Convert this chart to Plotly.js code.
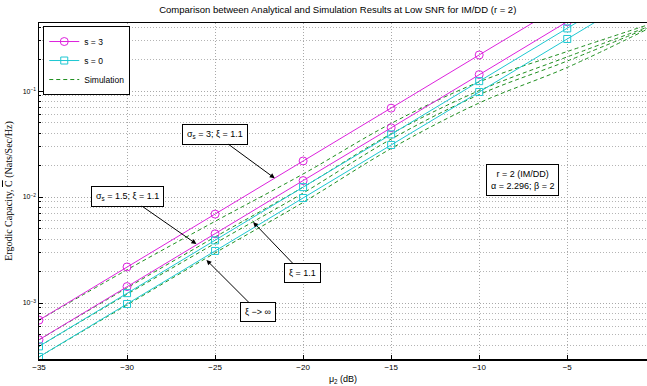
<!DOCTYPE html>
<html><head><meta charset="utf-8">
<script src="https://cdn.plot.ly/plotly-3.0.1.min.js"></script>
<style>html,body{margin:0;padding:0;background:#fff}#chart{width:647px;height:386px}</style>
</head><body><div id="chart"></div>
<script>
// Analytical curves (mu_2 in dB)
const snrDb = [-35, -30, -25, -20, -15, -10, -5, 0];
const capS3Sig3  = [6.9e-4, 2.19e-3, 6.9e-3, 0.0219, 0.069, 0.219, 0.69, 2.19];
const capS3Sig15 = [4.5e-4, 1.43e-3, 4.5e-3, 0.0143, 0.045, 0.143, 0.45, 1.43];
const capS0Xi11  = [3.9e-4, 1.24e-3, 3.9e-3, 0.0124, 0.039, 0.124, 0.39, 1.24];
const capS0XiInf = [3.1e-4, 9.8e-4, 3.1e-3, 9.8e-3, 0.031, 0.098, 0.31, 0.98];
// Simulation curves
const simDb = [-35, -30, -25, -20, -15, -10, -5, -0.5];
const simS3Sig3  = [6.9e-4, 2.06e-3, 5.9e-3, 0.0165, 0.0495, 0.122, 0.236, 0.417];
const simS3Sig15 = [4.5e-4, 1.39e-3, 4.2e-3, 0.0124, 0.0395, 0.101, 0.210, 0.398];
const simS0Xi11  = [3.9e-4, 1.21e-3, 3.66e-3, 0.0109, 0.0352, 0.0925, 0.192, 0.389];
const simS0XiInf = [3.1e-4, 9.6e-4, 2.97e-3, 8.9e-3, 0.0287, 0.0772, 0.167, 0.380];
const xTicks = [-35, -30, -25, -20, -15, -10, -5];
const yTicks = [1e-3, 1e-2, 1e-1];
const yTickText = ['10<sup>\u22123</sup>', '10<sup>\u22122</sup>', '10<sup>\u22121</sup>'];

const MAG = '#dd22dd', CYA = '#1ec8d2', GRN = '#1f8f1f';
const minorY = [];
[1e-4, 1e-3, 1e-2, 1e-1].forEach(d => { for (let k = 2; k <= 9; k++) minorY.push(+(d * k).toPrecision(3)); });

function sim(y, show) {
  return {x: simDb, y: y, mode: 'lines', name: 'Simulation', showlegend: show, legendrank: 3,
    line: {color: GRN, width: 1, dash: '4px,3px', shape: 'spline', smoothing: 1}};
}
function ana(y, name, color, sym, show) {
  return {x: snrDb, y: y, mode: 'lines+markers', name: name, showlegend: show,
    legendrank: color === MAG ? 1 : 2,
    line: {color: color, width: 1},
    marker: {symbol: sym, size: sym === 'circle-open' ? 8 : 7, color: color, line: {width: 1, color: color}}};
}
const data = [
  sim(simS3Sig3, true), sim(simS3Sig15, false), sim(simS0Xi11, false), sim(simS0XiInf, false),
  ana(capS3Sig3, 's = 3', MAG, 'circle-open', true),
  ana(capS3Sig15, 's = 3', MAG, 'circle-open', false),
  ana(capS0Xi11, 's = 0', CYA, 'square-open', true),
  ana(capS0XiInf, 's = 0', CYA, 'square-open', false)
];

const boxFont = {family: 'Liberation Sans, Arial, sans-serif', size: 9, color: '#000'};
function note(x, ly, text, ax, ay) {
  return {x: x, y: ly, xref: 'x', yref: 'y', text: text, showarrow: true, ax: ax, ay: ay,
    arrowhead: 2, arrowsize: 1, arrowwidth: 1, arrowcolor: '#000', font: boxFont,
    bgcolor: '#fff', bordercolor: '#000', borderwidth: 1, borderpad: 4};
}
const layout = {
  width: 647, height: 386,
  margin: {l: 39, r: 0, t: 23, b: 27},
  paper_bgcolor: '#fff', plot_bgcolor: '#fff',
  font: {family: 'Liberation Sans, Arial, sans-serif', size: 8, color: '#000'},
  title: {text: 'Comparison between Analytical and Simulation Results at Low SNR for IM/DD (r = 2)',
    font: {size: 9.5, color: '#000'}, x: 0.522, xanchor: 'center', y: 0.975, yanchor: 'middle'},
  showlegend: true,
  legend: {x: 0.007, y: 0.991, xanchor: 'left', yanchor: 'top', bgcolor: '#fff',
    bordercolor: '#000', borderwidth: 1, font: {size: 8.5}, tracegroupgap: 0, itemwidth: 30},
  xaxis: {range: [-35, -0.47], tickvals: xTicks, ticks: 'inside', ticklen: 4, tickcolor: '#000',
    showline: true, mirror: true, linecolor: '#000', linewidth: 1.5,
    showgrid: true, gridcolor: '#a8a8a8', griddash: '1px,2px', gridwidth: 1, zeroline: false,
    tickfont: {size: 8}, title: {text: '\u03bc<sub>2</sub> (dB)', font: {size: 9}, standoff: 4}},
  yaxis: {type: 'log', range: [-3.528, -0.358], tickvals: yTicks, ticktext: yTickText,
    ticks: 'inside', ticklen: 4, tickcolor: '#000',
    showline: true, mirror: false, linecolor: '#000', linewidth: 1.5,
    showgrid: true, gridcolor: '#a8a8a8', griddash: '1px,2px', gridwidth: 1, zeroline: false,
    minor: {tickvals: minorY, ticks: 'inside', ticklen: 2, tickcolor: '#000', showgrid: true,
      gridcolor: '#b4b4b4', griddash: '1px,2px', gridwidth: 1},
    tickfont: {size: 7},
    title: {text: 'Ergodic Capacity, <span style="text-decoration:overline">C</span> (Nats/Sec/Hz)',
      font: {family: 'Liberation Serif, Times New Roman, serif', size: 10}, standoff: 8}},
  annotations: [
    note(-21.61, -1.823, '\u03c3<sub>s</sub> = 3; \u03be = 1.1', -60, -44),
    note(-26.06, -2.443, '\u03c3<sub>s</sub> = 1.5; \u03be = 1.1', -69, -48),
    note(-22.84, -2.236, '\u03be = 1.1', 49, 51),
    note(-25.49, -2.594, '\u03be \u2212> \u221e', 52, 52),
    {x: -7.53, y: -1.839, xref: 'x', yref: 'y', showarrow: false,
      text: 'r = 2 (IM/DD)<br>\u03b1 = 2.296; \u03b2 = 2', font: boxFont, align: 'center',
      bgcolor: '#fff', bordercolor: '#000', borderwidth: 1, borderpad: 4}
  ]
};
Plotly.newPlot('chart', data, layout, {staticPlot: true, displayModeBar: false});
</script></body></html>
